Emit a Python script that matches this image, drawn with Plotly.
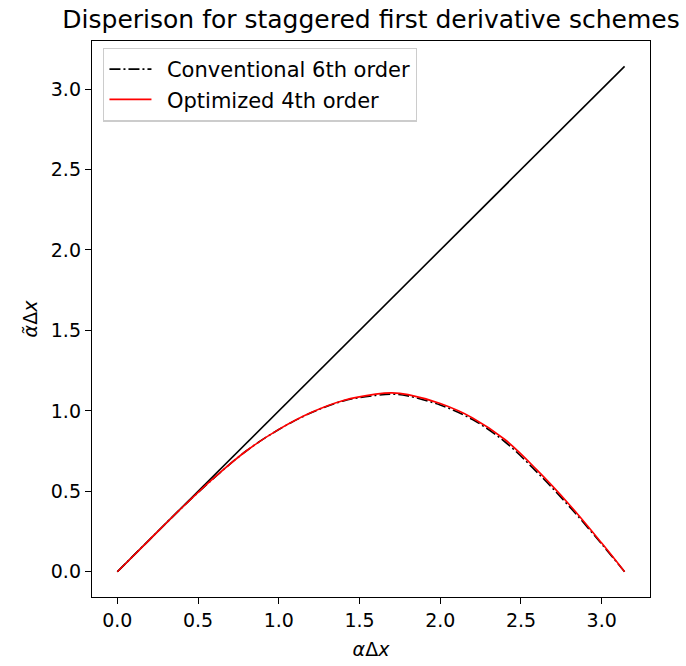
import plotly.graph_objects as go

# Data
diag_x = [0.0, 3.1416]
diag_y = [0.0, 3.1416]

curve_x = [0.0, 0.2, 0.4, 0.6, 0.8, 1.0, 1.2, 1.4, 1.6, 1.7, 1.8, 2.0, 2.2, 2.4, 2.6, 2.8, 3.0, 3.1416]
conv6_y = [0.0, 0.2, 0.398, 0.584, 0.752, 0.884, 0.988, 1.062, 1.096, 1.104, 1.093, 1.036, 0.946, 0.808, 0.618, 0.405, 0.172, 0.0]
opt4_y = [0.0, 0.2, 0.398, 0.585, 0.752, 0.885, 0.990, 1.065, 1.104, 1.112, 1.101, 1.045, 0.956, 0.822, 0.632, 0.417, 0.178, 0.0]

x_ticks = [0.0, 0.5, 1.0, 1.5, 2.0, 2.5, 3.0]
y_ticks = [0.0, 0.5, 1.0, 1.5, 2.0, 2.5, 3.0]

series_names = ["Conventional 6th order", "Optimized 4th order"]

FONT = "DejaVu Sans"
FS = 19
LW = 1.6
PAD = "\u2002"

fig = go.Figure()
fig.add_trace(go.Scatter(x=diag_x, y=diag_y, mode="lines",
                         line=dict(color="black", width=LW), showlegend=False))
fig.add_trace(go.Scatter(x=curve_x, y=conv6_y, mode="lines", name=PAD + series_names[0],
                         line=dict(color="black", width=LW, dash="11px,3px,2px,3px", shape="spline"),
                         legendgroup="a"))
fig.add_trace(go.Scatter(x=curve_x, y=opt4_y, mode="lines", name=PAD + series_names[1],
                         line=dict(color="red", width=LW, shape="spline"),
                         legendgroup="b"))

axis_common = dict(showline=True, mirror=True, linecolor="black", linewidth=1.4,
                   ticks="outside", ticklen=6, tickwidth=1.4, tickcolor="black",
                   showgrid=False, zeroline=False, automargin=False,
                   tickfont=dict(family=FONT, size=FS, color="black"))

fig.update_xaxes(range=[-0.157, 3.299], tickvals=x_ticks,
                 ticktext=[f"{v:.1f}" for v in x_ticks],
                 title=dict(text="<i>α</i>Δ<i>x</i>", font=dict(family=FONT, size=FS, color="black"), standoff=12),
                 **axis_common)
fig.update_yaxes(range=[-0.157, 3.299], tickvals=y_ticks,
                 ticktext=[f"{v:.1f}" for v in y_ticks],
                 title=dict(text="<i>α̃</i>Δ<i>x</i>", font=dict(family=FONT, size=FS, color="black"), standoff=8),
                 **axis_common)

fig.update_layout(
    width=686, height=666,
    margin=dict(l=92, r=36, t=41, b=69),
    paper_bgcolor="white", plot_bgcolor="white",
    title=dict(text="Disperison for staggered first derivative schemes",
               font=dict(family=FONT, size=25, color="black"),
               x=(92 + 650) / 2 / 686, xanchor="center", y=1 - 19 / 666, yanchor="middle"),
    legend=dict(x=0.02, y=0.988, xanchor="left", yanchor="top",
                bgcolor="rgba(255,255,255,0.8)", bordercolor="#cccccc", borderwidth=1.3,
                font=dict(family=FONT, size=21, color="black"),
                traceorder="grouped", tracegroupgap=0, itemwidth=42),
    font=dict(family=FONT),
)

fig.write_html("out.html", config={"displayModeBar": False},
               post_script="document.body.style.margin='0px';")
